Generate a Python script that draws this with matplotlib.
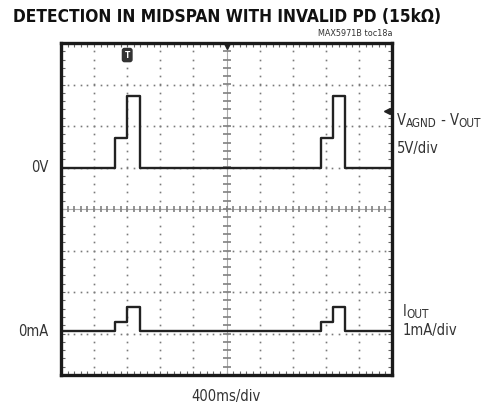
import numpy as np
import matplotlib.pyplot as plt
from matplotlib.ticker import MultipleLocator

plt.rcParams['font.family'] = ['DejaVu Sans']
plt.rcParams['font.stretch'] = 'condensed'

# scope settings
ms_per_div = 400
v_per_div = 5
ma_per_div = 1
v_ref_div = 5.0      # 0V position (divisions from bottom)
i_ref_div = 1.05     # 0mA position

# upper trace: V_AGND - V_OUT (volts), step levels
t_v = [0, 652, 797, 951, 3137, 3283, 3435, 4000]
v_out = [0, 3.5, 8.6, 0, 3.5, 8.6, 0, 0]

# lower trace: I_OUT (mA)
t_i = [0, 652, 797, 951, 3137, 3283, 3435, 4000]
i_out = [0, 0.22, 0.58, 0, 0.23, 0.58, 0, 0]

W, H = 498, 408
fig = plt.figure(figsize=(W / 100, H / 100), dpi=100)
ax = fig.add_axes([61/W, 33/H, 331/W, 332/H])
ax.set_xlim(0, 10)
ax.set_ylim(0, 8)

dot = '#7a7a7a'
# dotted graticule
for gx in range(1, 10):
    if gx == 5:
        continue
    ys = np.arange(0.2, 8, 0.2)
    ax.plot(np.full_like(ys, gx), ys, ls='none', marker='s', ms=1.2, color=dot, mew=0)
for gy in range(1, 8):
    if gy == 4:
        continue
    xs = np.arange(0.2, 10, 0.2)
    ax.plot(xs, np.full_like(xs, gy), ls='none', marker='s', ms=1.2, color=dot, mew=0)

# center cross with ticks
ax.axvline(5, color='#aaaaaa', lw=0.8)
ax.axhline(4, color='#aaaaaa', lw=0.8)
ys = np.arange(0.2, 8, 0.2)
ax.plot(np.full_like(ys, 5), ys, ls='none', marker='_', ms=6, mew=1.2, color='#808080')
xs = np.arange(0.2, 10, 0.2)
ax.plot(xs, np.full_like(xs, 4), ls='none', marker='|', ms=5, mew=1.2, color='#808080')

# traces
ax.plot(np.array(t_v) / ms_per_div, v_ref_div + np.array(v_out) / v_per_div,
        drawstyle='steps-post', color='#222222', lw=1.7)
ax.plot(np.array(t_i) / ms_per_div, i_ref_div + np.array(i_out) / ma_per_div,
        drawstyle='steps-post', color='#222222', lw=1.7)

# trigger markers
ax.text(2.0, 7.71, 'T', ha='center', va='center', fontsize=6, color='white', weight='bold',
        bbox=dict(boxstyle='round,pad=0.25', fc='#333333', ec='#333333'))
ax.plot(5, 7.93, marker='v', ms=5, color='#222222')
ax.plot(9.85, 6.36, marker='<', ms=5, color='#222222')

ax.xaxis.set_major_locator(MultipleLocator(1))
ax.yaxis.set_major_locator(MultipleLocator(1))
ax.xaxis.set_minor_locator(MultipleLocator(0.2))
ax.yaxis.set_minor_locator(MultipleLocator(0.2))
ax.tick_params(which='both', direction='in', top=True, right=True,
               labelbottom=False, labelleft=False, length=3, width=0.8, color='#666666')
for s in ax.spines.values():
    s.set_linewidth(2.4)
    s.set_color('#1a1a1a')

fig.text(13/W, 1 - 17/H, 'DETECTION IN MIDSPAN WITH INVALID PD (15k\u03a9)',
         fontsize=12.4, weight='bold', ha='left', va='center', color='#111111')
fig.text(392/W, 1 - 34/H, 'MAX5971B toc18a', fontsize=6.5, ha='right', va='center',
         color='#333333')

lab = '#333333'
fs = 10.5
fig.text(48/W, 1 - 167/H, '0V', fontsize=fs, ha='right', va='center', color=lab)
fig.text(48/W, 1 - 331/H, '0mA', fontsize=fs, ha='right', va='center', color=lab)
fig.text(226/W, 1 - 397/H, '400ms/div', fontsize=fs, ha='center', va='center', color=lab)

# labels with subscripts, built piece by piece
renderer = fig.canvas.get_renderer()


def chain(x, y, pieces):
    # pieces: (text, size, baseline shift px)
    for s, size, dy in pieces:
        t = fig.text(x / W, 1 - (y + dy) / H, s, fontsize=size, ha='left',
                     va='baseline', color=lab)
        x += t.get_window_extent(renderer).width


chain(397, 125, [('V', fs, 0), ('AGND', fs * 0.8, 2), (' - V', fs, 0), ('OUT', fs * 0.8, 2)])
fig.text(397/W, 1 - 148/H, '5V/div', fontsize=fs, ha='left', va='center', color=lab)
chain(403, 316, [('I', fs, 0), ('OUT', fs * 0.8, 2)])
fig.text(403/W, 1 - 330/H, '1mA/div', fontsize=fs, ha='left', va='center', color=lab)

fig.savefig('out.png', dpi=100)
